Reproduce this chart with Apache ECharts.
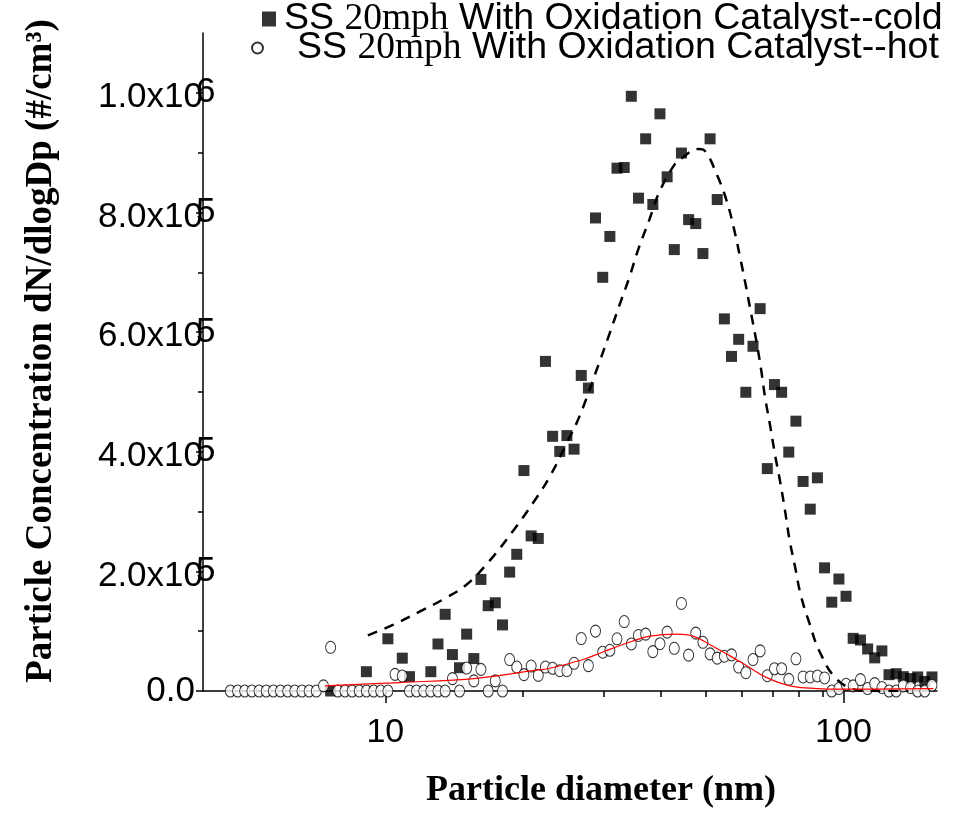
<!DOCTYPE html>
<html><head><meta charset="utf-8">
<script src="https://cdn.jsdelivr.net/npm/echarts@6/dist/echarts.min.js"></script>
<style>html,body{margin:0;padding:0;background:#fff}#c{width:958px;height:814px}</style>
</head><body><div id="c"></div>
<script>
// SMPS channel mid-point diameters (nm)
const diameters = [4.590,4.759,4.933,5.114,5.301,5.495,5.697,5.905,6.122,6.346,
6.578,6.819,7.069,7.328,7.596,7.875,8.163,8.462,8.772,9.093,
9.428,9.773,10.13,10.50,10.89,11.29,11.70,12.13,12.57,13.03,
13.51,14.01,14.52,15.05,15.60,16.17,16.77,17.38,18.02,18.68,
19.36,20.07,20.81,21.57,22.36,23.18,24.03,24.91,25.82,26.77,
27.75,28.76,29.82,30.91,32.04,33.22,34.43,35.69,37.00,38.36,
39.76,41.22,42.73,44.29,45.92,47.60,49.34,51.15,53.02,54.96,
56.97,59.05,61.22,63.46,65.78,68.19,70.69,73.28,75.96,78.75,
81.63,84.62,87.72,90.93,94.28,97.73,101.3,105.0,108.9,112.9,
117.0,121.3,125.7,130.3,135.1,140.1,145.2,150.5,156.0];

const coldValues = [null,null,null,null,null,null,null,null,null,null,
null,null,null,null,0,null,null,null,null,32300,
null,null,87300,null,54900,24000,null,null,32300,78600,
128200,60900,38900,95100,54200,186500,142600,147500,110500,198800,
228500,368500,259300,255000,551000,425800,400500,427000,404300,527500,
506400,790800,691600,759900,874000,875100,994200,823900,923100,813300,
964900,859600,737900,899300,788000,781400,731300,923100,821600,622100,
559300,587900,499400,576300,639200,371800,512300,499400,399400,451100,
350300,304000,356400,205900,148500,187200,158400,88000,85200,70300,
55400,67000,27300,28900,24000,20700,23500,16000,23500];

const hotValues = [0,0,0,0,0,0,0,0,0,0,
0,0,0,8600,73100,0,0,0,0,0,
0,0,0,27800,25100,0,0,0,0,0,
0,20700,0,38400,16900,36100,0,16900,0,52600,
40000,27300,41700,26100,40000,38000,33900,33900,46300,87700,
42500,100100,64800,68100,87300,116100,78600,92900,95100,65800,
79000,98400,71400,146400,59900,96700,81400,62000,54900,58200,
60400,40000,30600,52600,67000,25600,37200,37200,19500,53800,
23500,23500,25100,21800,0,4100,11200,8600,19000,4100,
12400,5800,0,0,8600,5800,0,0,9600];

// fitted curves
const coldFitD = [9.16,10.39,11.88,13.48,15.03,16.90,19.00,21.02,22.86,24.86,26.58,29.30,30.81,32.39,34.06,35.64,37.62,39.56,42.66,44.35,48.21,49.86,52.97,55.62,57.70,59.47,61.19,62.84,64.45,66.09,67.43,69.15,70.91,72.72,74.57,76.21,78.42,80.70,84.27,88.62,96.76,108.8,122.1,138.5];
const coldFitV = [93000,110500,132700,154600,177600,218000,267600,314600,358600,413800,460600,548800,595800,643700,690500,738000,786000,832800,878600,890700,906100,902800,862600,819100,772100,725300,678500,631500,587500,537900,490900,444100,394500,350300,300700,253900,207100,160100,113300,66500,19500,1000,0,0];
const hotFitD = [7.38,10.75,15.81,20.99,22.86,27.03,29.85,34.71,37.82,43.24,46.95,51.14,56.54,61.50,68.01,76.47,87.47,99.85,157.1];
const hotFitV = [8600,14100,21200,34000,38000,52600,65300,83500,91800,95100,91800,77400,58700,42200,22300,8600,4100,3000,4100];

const yTickValues = [0,200000,400000,600000,800000,1000000];
const yLabelMain = ['0.0','2.0x10','4.0x10','6.0x10','8.0x10','1.0x10'];
const yLabelExp = ['','5','5','5','5','6'];
const yMinorTicks = [100000,300000,500000,700000,900000];
const xLabelValues = [10,100];
const xLabelText = ['10','100'];
const xMinorTicks = [20,30,40,50,60,70,80,90];

const coldName = 'SS 20mph With Oxidation Catalyst--cold';
const hotName = 'SS 20mph With Oxidation Catalyst--hot';

function pairs(xs, ys) {
  const out = [];
  for (let i = 0; i < xs.length; i++) if (ys[i] !== null) out.push([xs[i], ys[i]]);
  return out;
}
function idxOf(arr, v) {
  for (let i = 0; i < arr.length; i++) if (Math.abs(arr[i] - v) < 1e-6 * Math.max(1, Math.abs(v))) return i;
  return -1;
}

const SANS = 'Liberation Sans, Arial, sans-serif';
const SERIF = 'Liberation Serif, Times New Roman, serif';
const LF = 37.5;
function legendRich(sp) {
  return {
    sp: { width: sp, fontSize: LF },
    a: { fontFamily: SANS, fontSize: LF, color: '#000' },
    b: { fontFamily: SERIF, fontSize: LF, color: '#000' }
  };
}

const chart = echarts.init(document.getElementById('c'), null, { renderer: 'canvas' });
chart.setOption({
  animation: false,
  backgroundColor: '#fff',
  grid: { left: 203, top: 33, width: 734, height: 665.5, containLabel: false },
  legend: [
    {
      data: [coldName], orient: 'vertical', left: 262, top: 0, padding: 0,
      itemWidth: 14, itemHeight: 15, icon: 'rect', selectedMode: false,
      formatter: () => '{sp| }{a|SS }{b|20mph}{a| With Oxidation Catalyst--cold}',
      textStyle: { rich: legendRich(3) }
    },
    {
      data: [hotName], orient: 'vertical', left: 251, top: 29, padding: 0,
      itemWidth: 11, itemHeight: 13, icon: 'circle', selectedMode: false,
      formatter: () => '{sp| }{a|SS }{b|20mph}{a| With Oxidation Catalyst--hot}',
      textStyle: { rich: legendRich(29) }
    }
  ],
  xAxis: [
    {
      type: 'log', logBase: 10, min: 4, max: 160, position: 'bottom',
      axisLine: { show: true, lineStyle: { color: '#000', width: 1.5 } },
      axisTick: { show: true, customValues: xLabelValues, length: 12, lineStyle: { color: '#000', width: 1.5 } },
      axisLabel: {
        customValues: xLabelValues, margin: 25, fontSize: 34, fontFamily: SANS, color: '#000',
        formatter: (v) => xLabelText[idxOf(xLabelValues, v)]
      },
      splitLine: { show: false }, minorTick: { show: false },
      name: 'Particle diameter (nm)', nameLocation: 'middle', nameGap: 82,
      nameTextStyle: { fontFamily: SERIF, fontWeight: 'bold', fontSize: 36, color: '#000', padding: [0, 0, 0, 62] }
    },
    {
      type: 'log', logBase: 10, min: 4, max: 160, position: 'bottom',
      axisLine: { show: false },
      axisTick: { show: true, customValues: xMinorTicks, length: 6, lineStyle: { color: '#000', width: 1.5 } },
      axisLabel: { show: false },
      splitLine: { show: false }
    }
  ],
  yAxis: [
    {
      type: 'value', min: 0, max: 1100000, position: 'left',
      axisLine: { show: true, lineStyle: { color: '#000', width: 1.5 } },
      axisTick: { show: true, customValues: yTickValues, length: 7, lineStyle: { color: '#000', width: 1.5 } },
      axisLabel: {
        customValues: yTickValues, margin: 0, fontSize: 35, fontFamily: SANS, color: '#000',
        formatter: (v) => {
          const i = idxOf(yTickValues, v);
          return i === 0 ? '{z|' + yLabelMain[i] + '}' : '{m|' + yLabelMain[i] + '}';
        },
        rich: {
          z: { fontSize: 35, fontFamily: SANS, color: '#000', padding: [0, 8, 0, 0] },
          m: { fontSize: 35, fontFamily: SANS, color: '#000', padding: [9, 0, 0, 0] }
        }
      },
      splitLine: { show: false },
      name: 'Particle Concentration dN/dlogDp (#/cm\u00b3)', nameLocation: 'middle', nameGap: 143, nameRotate: 90,
      nameTextStyle: { fontFamily: SERIF, fontWeight: 'bold', fontSize: 37, color: '#000', padding: [0, 0, 0, 22] }
    },
    {
      type: 'value', min: 0, max: 1100000, position: 'left',
      axisLine: { show: false },
      axisTick: { show: true, customValues: yMinorTicks, length: 5, lineStyle: { color: '#000', width: 1.5 } },
      axisLabel: {
        inside: true, margin: -7, customValues: yTickValues.slice(1), fontSize: 35, fontFamily: SANS, color: '#000',
        padding: [0, 0, 4, 0],
        formatter: (v) => yLabelExp[idxOf(yTickValues, v)]
      },
      splitLine: { show: false }
    }
  ],
  series: [
    {
      name: coldName, type: 'scatter', xAxisIndex: 0, yAxisIndex: 0, clip: false,
      symbol: 'rect', symbolSize: 11, itemStyle: { color: '#000' }, z: 2,
      data: pairs(diameters, coldValues)
    },
    {
      name: hotName, type: 'scatter', xAxisIndex: 0, yAxisIndex: 0, clip: false,
      symbol: 'circle', symbolSize: [10, 12],
      itemStyle: { color: '#fff', borderColor: '#000', borderWidth: 1 }, z: 3,
      data: pairs(diameters, hotValues)
    },
    {
      name: 'cold fit', type: 'line', xAxisIndex: 0, yAxisIndex: 0, smooth: 0.4, showSymbol: false,
      lineStyle: { color: '#000', width: 2.5, type: [10, 8] }, z: 4,
      data: pairs(coldFitD, coldFitV)
    },
    {
      name: 'hot fit', type: 'line', xAxisIndex: 0, yAxisIndex: 0, smooth: 0.4, showSymbol: false,
      lineStyle: { color: '#ff0000', width: 1.2 }, z: 4,
      data: pairs(hotFitD, hotFitV)
    }
  ]
});
</script>
</body></html>
